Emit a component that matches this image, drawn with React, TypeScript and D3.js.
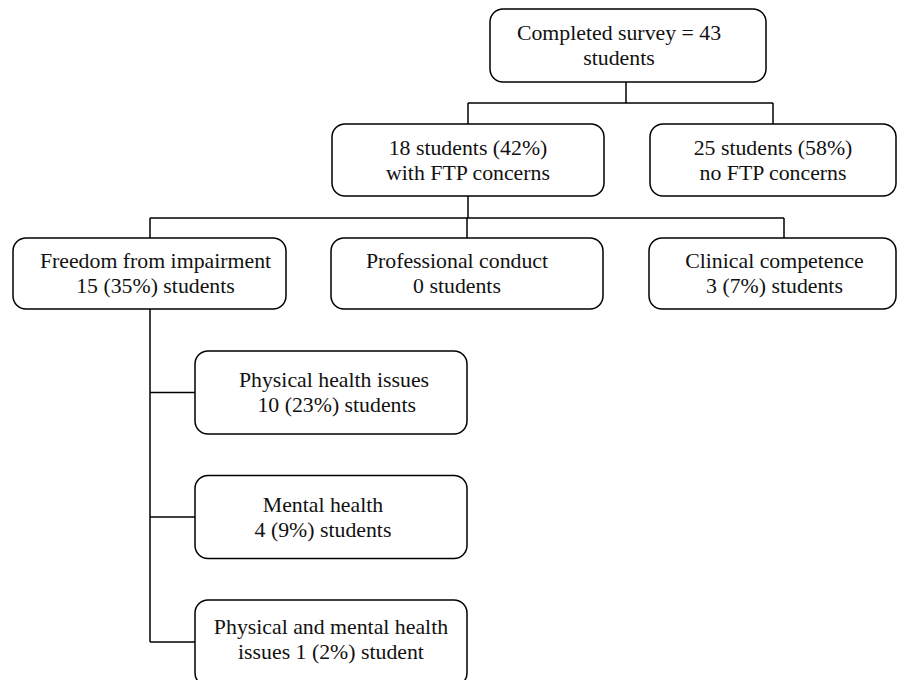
import { useEffect, useRef } from "react"
import * as d3 from "d3"

// Text of each box, by level
const rootLabel = ["Completed survey = 43", "students"]
const splitLabels = [
  ["18 students (42%)", "with FTP concerns"],
  ["25 students (58%)", "no FTP concerns"],
]
const concernLabels = [
  ["Freedom from impairment", "15 (35%) students"],
  ["Professional conduct", "0 students"],
  ["Clinical competence", "3 (7%) students"],
]
const impairmentLabels = [
  ["Physical health issues", " 10 (23%) students"],
  ["Mental health", "4 (9%) students"],
  ["Physical and mental health", "issues 1 (2%) student"],
]

interface Box {
  x: number
  y: number
  w: number
  h: number
  dx: number
  dy: number
  lines: string[]
}

const App = () => {
  const svgRef = useRef<SVGSVGElement | null>(null)

  useEffect(() => {
    if (!svgRef.current) return
    const svg = d3.select(svgRef.current)
    svg.selectAll("*").remove()

    const root: Box = { x: 490, y: 9, w: 276, h: 73, dx: -9, dy: 0, lines: rootLabel }
    const split: Box[] = [
      { x: 332, y: 124, w: 272, h: 72, dx: 0, dy: 0, lines: splitLabels[0] },
      { x: 650, y: 124, w: 246, h: 72, dx: 0, dy: 0, lines: splitLabels[1] },
    ]
    const concern: Box[] = [
      { x: 13, y: 238, w: 273, h: 71, dx: 6, dy: 0, lines: concernLabels[0] },
      { x: 331, y: 238, w: 272, h: 71, dx: -10, dy: 0, lines: concernLabels[1] },
      { x: 649, y: 238, w: 247, h: 71, dx: 2, dy: 0, lines: concernLabels[2] },
    ]
    const impairDx = [3, -8, 0]
    const impair: Box[] = impairmentLabels.map((lines, i) => ({
      x: 195,
      y: 351 + i * 124.5,
      w: 272,
      h: i === 2 ? 86 : 83,
      dx: impairDx[i],
      dy: i === 2 ? -4 : 0,
      lines,
    }))

    const line = (pts: [number, number][]) =>
      svg
        .append("path")
        .attr("d", d3.line()(pts))
        .attr("fill", "none")
        .attr("stroke", "#000")
        .attr("stroke-width", 1.5)

    // connectors
    line([[626, root.y + root.h], [626, 103]])
    line([[468, 103], [773, 103]])
    line([[468, 103], [468, split[0].y]])
    line([[773, 103], [773, split[1].y]])
    line([[468, split[0].y + split[0].h], [468, 218]])
    line([[150, 218], [784, 218]])
    line([[150, 218], [150, concern[0].y]])
    line([[467, 218], [467, concern[1].y]])
    line([[784, 218], [784, concern[2].y]])
    const stemY = impair.map((b, i) => (i === 2 ? 642 : b.y + b.h / 2))
    line([[150, concern[0].y + concern[0].h], [150, stemY[2]]])
    impair.forEach((b, i) => line([[150, stemY[i]], [b.x, stemY[i]]]))

    const boxes = [root, ...split, ...concern, ...impair]
    const g = svg.selectAll("g.box").data(boxes).join("g").attr("class", "box")

    g.append("rect")
      .attr("x", (d) => d.x)
      .attr("y", (d) => d.y)
      .attr("width", (d) => d.w)
      .attr("height", (d) => d.h)
      .attr("rx", 13)
      .attr("fill", "#fff")
      .attr("stroke", "#000")
      .attr("stroke-width", 1.5)

    g.append("text")
      .attr("text-anchor", "middle")
      .attr("font-family", "'Liberation Serif', 'Times New Roman', serif")
      .attr("font-size", 21.8)
      .attr("fill", "#111")
      .selectAll("tspan")
      .data((d) => d.lines.map((t, i) => ({ t, i, d })))
      .join("tspan")
      .attr("x", (e) => e.d.x + e.d.w / 2 + e.d.dx)
      .attr("y", (e) => e.d.y + e.d.h / 2 + (e.i - 0.5) * 25 + 7 + e.d.dy)
      .attr("xml:space", "preserve")
      .text((e) => e.t)
  }, [])

  return (
    <svg
      ref={svgRef}
      width={909}
      height={680}
      style={{ position: "absolute", left: 0, top: 0, background: "#fff" }}
    />
  )
}

export default App
